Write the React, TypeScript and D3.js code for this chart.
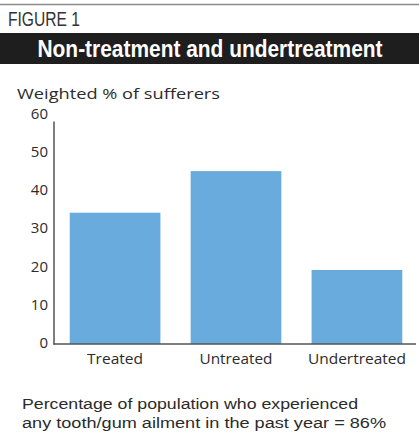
import React from "react";
import * as d3 from "d3";

const categories = ["Treated", "Untreated", "Undertreated"];
const values = [34.4, 45.3, 19.4];
const yTicks = [0, 10, 20, 30, 40, 50, 60];

const W = 419;
const H = 437;
const FONT = "'Open Sans', 'Liberation Sans', Arial, sans-serif";
const FONT_C = "'Liberation Sans', Arial, sans-serif";

export default function App() {
  const x = d3.scaleBand<string>().domain(categories).range([54, 418]).paddingInner(0.25).paddingOuter(0.13);
  const y = d3.scaleLinear().domain([0, 60]).range([344, 115]);
  const textCol = "#2b2b2b";
  const catWidths = [56, 73, 98];
  return (
    <svg width={W} height={H} style={{ position: "absolute", left: 0, top: 0 }}>
      <rect x={0} y={0} width={W} height={H} fill="#fff" />
      <line x1={0} x2={W} y1={4.5} y2={4.5} stroke="#8a8a8a" strokeWidth={1.5} />
      <text x={8} y={25.5} fontFamily={FONT_C} fontSize={20} fill="#333" textLength={72} lengthAdjust="spacingAndGlyphs">FIGURE 1</text>
      <rect x={0} y={33} width={W} height={31} fill="#1e1e1e" />
      <text x={210} y={57} textAnchor="middle" fontFamily={FONT_C} fontWeight="bold" fontSize={23} fill="#fff" textLength={345} lengthAdjust="spacingAndGlyphs">Non-treatment and undertreatment</text>
      <text x={17} y={99} fontFamily={FONT} fontSize={15} fill={textCol} textLength={203} lengthAdjust="spacingAndGlyphs">Weighted % of sufferers</text>
      {categories.map((c, i) => (
        <rect key={c} x={x(c)} y={y(values[i])} width={x.bandwidth()} height={y(0) - y(values[i])} fill="#69abdc" />
      ))}
      <line x1={54} x2={54} y1={121.5} y2={344.5} stroke="#555" strokeWidth={1.5} />
      <line x1={53.25} x2={416} y1={344} y2={344} stroke="#555" strokeWidth={1.5} />
      {yTicks.map((t) => (
        <text key={t} x={48} y={y(t) - 1.5} dy="0.36em" textAnchor="end" fontFamily={FONT} fontSize={15} fill={textCol}>{t}</text>
      ))}
      {categories.map((c, i) => (
        <text key={c} x={(x(c) as number) + x.bandwidth() / 2} y={364} textAnchor="middle" fontFamily={FONT} fontSize={15} fill={textCol} textLength={catWidths[i]} lengthAdjust="spacingAndGlyphs">{c}</text>
      ))}
      <text x={22} y={409} fontFamily={FONT_C} fontSize={15.5} fill={textCol} textLength={336} lengthAdjust="spacingAndGlyphs">Percentage of population who experienced</text>
      <text x={22} y={428} fontFamily={FONT_C} fontSize={15.5} fill={textCol} textLength={364} lengthAdjust="spacingAndGlyphs">any tooth/gum ailment in the past year = 86%</text>
    </svg>
  );
}
